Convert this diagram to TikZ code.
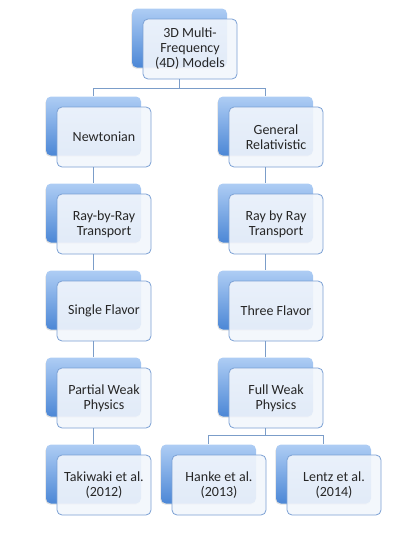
\documentclass[tikz,border=0pt]{standalone}
\usepackage{fontspec}
\setmainfont{Carlito}
\usetikzlibrary{shadows}

\definecolor{boxline}{HTML}{7BA0D4}
\definecolor{boxfill}{HTML}{F2F6FC}
\definecolor{backtop}{HTML}{AECDF4}
\definecolor{backbot}{HTML}{4C87D6}
\definecolor{linkcol}{HTML}{7B9DC9}

\tikzset{
 backbox/.style={rectangle, rounded corners=5pt, minimum width=95pt, minimum height=59pt,
   inner sep=0pt, top color=backtop, bottom color=backbot, draw=none,
   drop shadow={shadow xshift=-0.6pt, shadow yshift=-1.2pt, opacity=0.25}},
 frontbox/.style={rectangle, rounded corners=5pt, minimum width=94pt, minimum height=60pt,
   inner sep=2pt, draw=boxline, line width=0.8pt, fill=boxfill, fill opacity=0.9,
   text opacity=1, text=black!85, align=center,
   font=\fontsize{14}{15}\selectfont},
 link/.style={draw=linkcol, line width=0.8pt}
}

\begin{document}
\begin{tikzpicture}[x=1pt, y=-1pt]
 \useasboundingbox (0,0) rectangle (415,546);
 % top
 \node[backbox] (topB) at (179.5,38) {};
 \node[frontbox] (top) at (190,49) {3D Multi-\\Frequency\\(4D) Models};
 % left column
 \node[backbox] (newtB) at (93.5,126) {};
 \node[frontbox] (newt) at (104,137) {Newtonian};
 \node[backbox] (rbrB) at (93.5,213) {};
 \node[frontbox] (rbr) at (104,224) {Ray-by-Ray\\Transport};
 \node[backbox] (singleB) at (93.5,300) {};
 \node[frontbox] (single) at (104,311) {Single Flavor};
 \node[backbox] (partB) at (93.5,387) {};
 \node[frontbox] (part) at (104,398) {Partial Weak\\Physics};
 \node[backbox] (takiB) at (93.5,474) {};
 \node[frontbox] (taki) at (104,485) {Takiwaki et al.\\(2012)};
 % right column
 \node[backbox] (grB) at (265.5,126) {};
 \node[frontbox] (gr) at (276,137) {General\\Relativistic};
 \node[backbox] (rayB) at (265.5,213) {};
 \node[frontbox] (ray) at (276,224) {Ray by Ray\\Transport};
 \node[backbox] (threeB) at (265.5,300) {};
 \node[frontbox] (three) at (276,311) {Three Flavor};
 \node[backbox] (fullB) at (265.5,387) {};
 \node[frontbox] (full) at (276,398) {Full Weak\\Physics};
 \node[backbox] (hankeB) at (208.5,474) {};
 \node[frontbox] (hanke) at (219,485) {Hanke et al.\\(2013)};
 \node[backbox] (lentzB) at (323.5,474) {};
 \node[frontbox] (lentz) at (334,485) {Lentz et al.\\(2014)};
 % connectors
 \coordinate (topJ) at (179.5,88);
 \draw[link] (topB.south |- top.south) -- (topJ);
 \draw[link] (topJ) -| (newtB.north);
 \draw[link] (topJ) -| (grB.north);
 \draw[link] (newtB.south |- newt.south) -- (rbrB.north);
 \draw[link] (rbrB.south |- rbr.south) -- (singleB.north);
 \draw[link] (singleB.south |- single.south) -- (partB.north);
 \draw[link] (partB.south |- part.south) -- (takiB.north);
 \draw[link] (grB.south |- gr.south) -- (rayB.north);
 \draw[link] (rayB.south |- ray.south) -- (threeB.north);
 \draw[link] (threeB.south |- three.south) -- (fullB.north);
 \coordinate (fullJ) at (265.5,435);
 \draw[link] (fullB.south |- full.south) -- (fullJ);
 \draw[link] (fullJ) -| (hankeB.north);
 \draw[link] (fullJ) -| (lentzB.north);
\end{tikzpicture}
\end{document}
